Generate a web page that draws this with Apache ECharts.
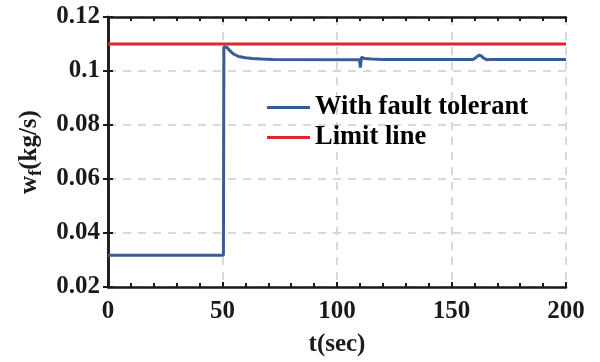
<!DOCTYPE html>
<html>
<head>
<meta charset="utf-8">
<script src="https://cdn.jsdelivr.net/npm/echarts@6/dist/echarts.min.js"></script>
<style>
  html, body { margin: 0; padding: 0; background: #fff; }
  #chart { width: 600px; height: 362px; }
</style>
</head>
<body>
<div id="chart"></div>
<script>
// time (s) and fuel flow (kg/s)
const timeSec = [0, 50.4, 50.6, 51, 52, 53, 54, 55, 57, 60, 63, 67, 72,
  109.8, 110.2, 110.4, 110.7, 112, 115, 120,
  159.4, 161, 162, 162.4, 163, 164, 165.3, 167, 170, 200];
const faultTolerant = [0.0318, 0.0318, 0.1090, 0.1094, 0.1087, 0.1077, 0.1069, 0.1062, 0.1054, 0.1049, 0.1046, 0.1044, 0.1043,
  0.1042, 0.1013, 0.1013, 0.1051, 0.1046, 0.1044, 0.1043,
  0.1043, 0.1052, 0.1059, 0.1062, 0.1056, 0.1048, 0.1042, 0.1043, 0.1043, 0.1043];
const limitTime = [0, 200];
const limitValue = [0.11, 0.11];
const xTicks = ['0', '50', '100', '150', '200'];
const yTicks = ['0.02', '0.04', '0.06', '0.08', '0.1', '0.12'];

const font = 'Liberation Serif';
const chart = echarts.init(document.getElementById('chart'));

const zip = (xs, ys) => xs.map((x, i) => [x, ys[i]]);
const axisLine = { show: true, lineStyle: { color: '#1a1a1a', width: 2.5 } };
const grid = { show: true, lineStyle: { color: '#d9d9d9', width: 2, type: [8, 7] } };
const tickX = { show: true, inside: true, length: 5, lineStyle: { color: '#1a1a1a', width: 2 } };
const minorX = { show: true, splitNumber: 5, length: 4, lineStyle: { color: '#1a1a1a', width: 2 } };
const tickY = { show: true, inside: true, length: 5, lineStyle: { color: '#1a1a1a', width: 2 } };

const option = {
  animation: false,
  grid: { left: 108, right: 34, top: 17, bottom: 74 },
  legend: {
    left: 267, top: 94, orient: 'vertical', itemGap: 3, padding: 0,
    itemWidth: 43, itemHeight: 3, icon: 'rect',
    textStyle: { fontFamily: font, fontWeight: 'bold', fontSize: 26.5, color: '#000' },
    data: ['With fault tolerant', 'Limit line']
  },
  xAxis: [{
    type: 'value', min: 0, max: 200, interval: 50,
    name: 't(sec)', nameLocation: 'middle', nameGap: 45,
    nameTextStyle: { fontFamily: font, fontWeight: 'bold', fontSize: 25, color: '#1a1a1a' },
    axisLine: axisLine, axisTick: tickX, minorTick: minorX, splitLine: grid,
    axisLabel: { margin: 12, fontFamily: font, fontWeight: 'bold', fontSize: 25, color: '#1a1a1a',
      formatter: (v) => xTicks[Math.round(v / 50)] }
  }, {
    type: 'value', min: 0, max: 200, interval: 50, position: 'top',
    axisLine: axisLine, axisTick: tickX, minorTick: minorX,
    splitLine: { show: false }, axisLabel: { show: false }
  }],
  yAxis: [{
    type: 'value', min: 0.02, max: 0.12, interval: 0.02,
    name: '{w|w}{f|f}{w|(kg/s)}', nameLocation: 'middle', nameGap: 62,
    nameTextStyle: {
      color: '#1a1a1a',
      rich: {
        w: { fontFamily: font, fontWeight: 'bold', fontSize: 25, color: '#1a1a1a' },
        f: { fontFamily: font, fontWeight: 'bold', fontSize: 18, color: '#1a1a1a', padding: [14, 0, 0, 0] }
      }
    },
    axisLine: axisLine, axisTick: tickY, splitLine: grid,
    axisLabel: { margin: 8, fontFamily: font, fontWeight: 'bold', fontSize: 25, color: '#1a1a1a',
      formatter: (v) => yTicks[Math.round((v - 0.02) / 0.02)] }
  }, {
    type: 'value', min: 0.02, max: 0.12, interval: 0.02, position: 'right',
    axisLine: axisLine, axisTick: tickY,
    splitLine: { show: false }, axisLabel: { show: false }
  }],
  series: [{
    name: 'With fault tolerant', type: 'line', showSymbol: false, symbol: 'none',
    data: zip(timeSec, faultTolerant),
    lineStyle: { color: '#3a5b93', width: 3 }, itemStyle: { color: '#3a5b93' }, z: 3
  }, {
    name: 'Limit line', type: 'line', showSymbol: false, symbol: 'none',
    data: zip(limitTime, limitValue),
    lineStyle: { color: '#e0262b', width: 3 }, itemStyle: { color: '#e0262b' }, z: 2
  }]
};

chart.setOption(option);
</script>
</body>
</html>
